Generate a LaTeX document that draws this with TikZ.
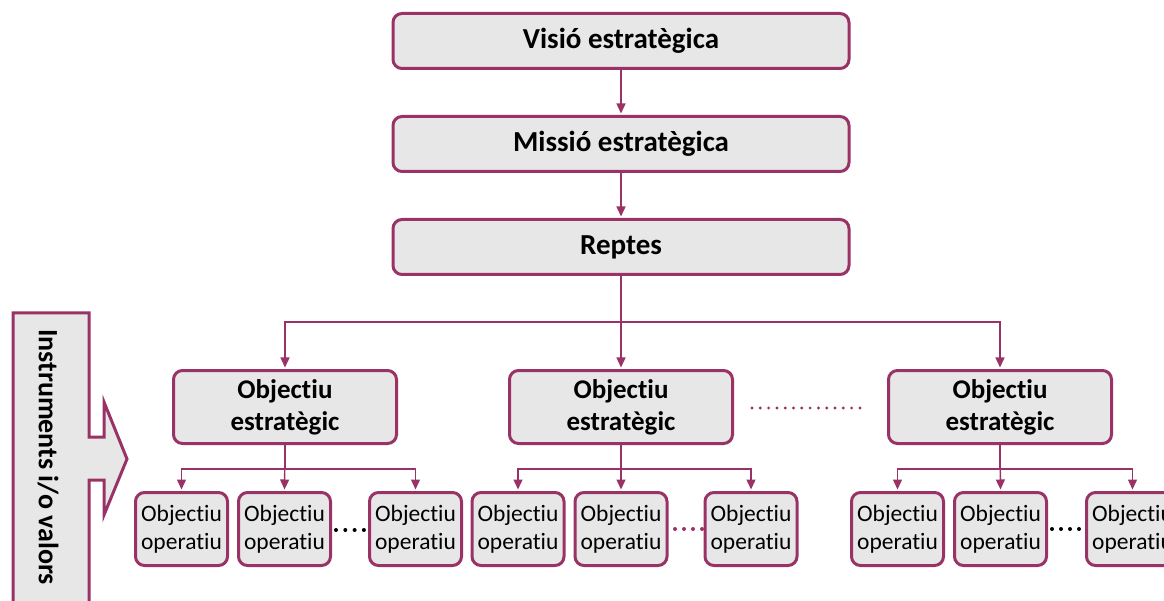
\documentclass[tikz,border=0pt]{standalone}
\usepackage{fontspec}
\setmainfont{Carlito}[Ligatures={NoCommon,NoRare,NoContextual}]
\usetikzlibrary{arrows.meta}
\definecolor{vora}{RGB}{153,51,102}
\definecolor{fons}{RGB}{231,231,231}
\tikzset{
 caixa/.style={draw=vora, line width=3pt, fill=fons, rounded corners=9pt, align=center, inner sep=0pt},
 gran/.style={caixa, minimum width=456pt, minimum height=55pt, font=\fontsize{29}{32}\selectfont\bfseries},
 mitja/.style={caixa, minimum width=223pt, minimum height=73pt, font=\fontsize{27}{32}\selectfont\bfseries},
 petita/.style={caixa, minimum width=92pt, minimum height=73pt, font=\fontsize{23.5}{28}\selectfont},
 fletxa/.style={draw=vora, line width=1.4pt, shorten >=1.5pt, -{Triangle[width=9pt,length=10pt]}},
}
\begin{document}
\begin{tikzpicture}[x=1pt,y=-1pt]
\useasboundingbox (0,0) rectangle (1164,601);
\node[gran] (visio) at (621,41) {Visió estratègica};
\node[gran] (missio) at (621,144) {Missió estratègica};
\node[gran] (reptes) at (621,247) {Reptes};
\draw[fletxa] (visio) -- (missio);
\draw[fletxa] (missio) -- (reptes);
\coordinate (bus) at (0,322);
\foreach \x/\n in {285/1,621/2,1000/3}
 \node[mitja] (est\n) at (\x,407) {Objectiu\\estratègic};
\draw[fletxa] (reptes.south) -- (est2.north);
\draw[fletxa] (reptes.south |- bus) -| (est1.north);
\draw[fletxa] (reptes.south |- bus) -| (est3.north);
\foreach \i in {0,...,13}
 \fill[vora] (752+\i*8.3,408) circle (1.6pt);
\foreach \n/\a/\b/\c in {1/181.5/284.5/415.5, 2/518/621/751, 3/897.5/1000.5/1132.5}{
 \node[petita] (op\n1) at (\a,529) {Objectiu\\operatiu};
 \node[petita] (op\n2) at (\b,529) {Objectiu\\operatiu};
 \node[petita] (op\n3) at (\c,529) {Objectiu\\operatiu};
 \draw[fletxa] (est\n.south) -- (op\n2.north);
 \draw[fletxa] (est\n.south) -- ++(0,24) -| (op\n1.north);
 \draw[fletxa] (est\n.south) -- ++(0,24) -| (op\n3.north);
}
\foreach \i in {0,...,3}{
 \fill (336+\i*9.3,530) circle (2pt);
 \fill[vora] (675+\i*9,529) circle (2pt);
 \fill (1052+\i*9,529) circle (2pt);
}
\draw[vora, fill=fons, line width=3pt] (13,313) -- (89,313) -- (89,437) -- (104,437) -- (104,402)
 -- (127,459) -- (104,515) -- (104,480) -- (89,480) -- (89,612) -- (13,612) -- cycle;
\node[rotate=-90, font=\fontsize{28}{32}\selectfont\bfseries] (instr) at (48,457) {Instruments i/o valors};
\end{tikzpicture}
\end{document}
